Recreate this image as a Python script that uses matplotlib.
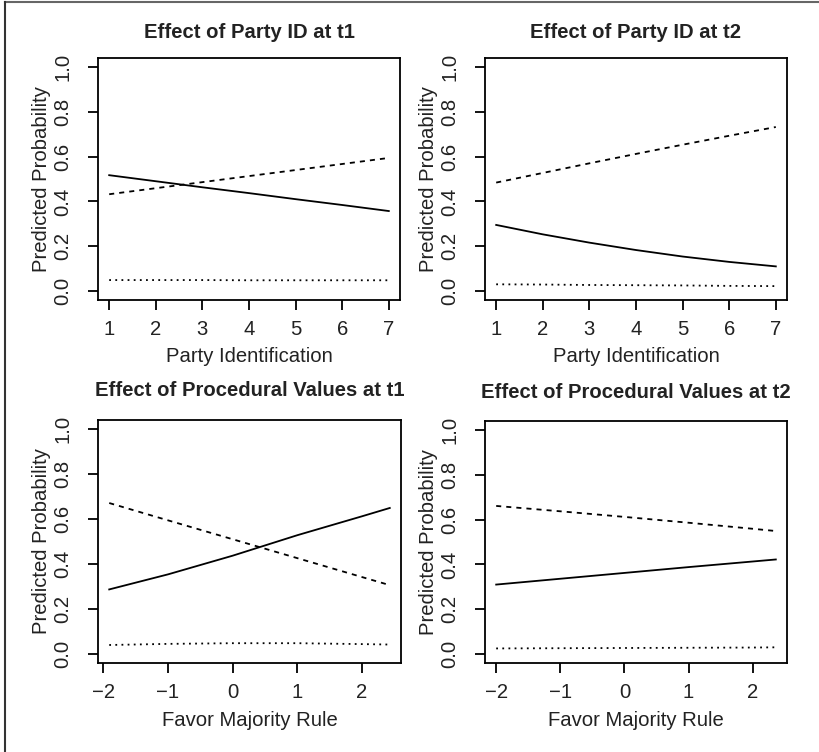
import matplotlib
matplotlib.use("Agg")
import matplotlib.pyplot as plt
from matplotlib.lines import Line2D

plt.rcParams['font.family'] = ['Liberation Sans', 'DejaVu Sans']

# ---- data ----
party_x = [1, 2, 3, 4, 5, 6, 7]
p1_solid = [0.517, 0.490, 0.463, 0.437, 0.410, 0.384, 0.357]
p1_dashed = [0.432, 0.459, 0.486, 0.513, 0.540, 0.567, 0.594]
p1_dotted = [0.049, 0.049, 0.049, 0.048, 0.048, 0.048, 0.048]

p2_solid = [0.295, 0.253, 0.216, 0.183, 0.154, 0.130, 0.110]
p2_dashed = [0.484, 0.527, 0.570, 0.612, 0.653, 0.693, 0.732]
p2_dotted = [0.030, 0.029, 0.027, 0.026, 0.025, 0.023, 0.022]

proc3_x = [-1.91, -1, 0, 1, 2, 2.43]
p3_solid = [0.287, 0.354, 0.437, 0.528, 0.612, 0.649]
p3_dashed = [0.671, 0.594, 0.510, 0.426, 0.342, 0.306]
p3_dotted = [0.040, 0.045, 0.048, 0.048, 0.044, 0.042]

proc4_x = [-2.0, -1, 0, 1, 2, 2.36]
p4_solid = [0.310, 0.336, 0.362, 0.388, 0.413, 0.422]
p4_dashed = [0.661, 0.637, 0.612, 0.586, 0.559, 0.549]
p4_dotted = [0.025, 0.026, 0.027, 0.028, 0.029, 0.030]

titles = ["Effect of Party ID at t1", "Effect of Party ID at t2",
          "Effect of Procedural Values at t1", "Effect of Procedural Values at t2"]
xlabels = ["Party Identification", "Party Identification",
           "Favor Majority Rule", "Favor Majority Rule"]
ylabel = "Predicted Probability"
yticks = [0.0, 0.2, 0.4, 0.6, 0.8, 1.0]
party_ticks = [1, 2, 3, 4, 5, 6, 7]
proc_ticks = [-2, -1, 0, 1, 2]

W, H = 819, 752
fig = plt.figure(figsize=(W / 100, H / 100), dpi=100)
fig.patch.set_facecolor('white')

# axes boxes in pixels: (left, top, right, bottom)
boxes = [(98, 58, 400, 300), (485, 58, 787, 300),
         (98, 420, 401, 663), (485, 421, 787, 663)]
xs = [party_x, party_x, proc3_x, proc4_x]
solids = [p1_solid, p2_solid, p3_solid, p4_solid]
dashes = [p1_dashed, p2_dashed, p3_dashed, p4_dashed]
dots = [p1_dotted, p2_dotted, p3_dotted, p4_dotted]
xticks_list = [party_ticks, party_ticks, proc_ticks, proc_ticks]

FS = 14.6
TXT = '#222222'
LW = 1.3

for i, (l, t, r, b) in enumerate(boxes):
    ax = fig.add_axes([l / W, (H - b) / H, (r - l) / W, (b - t) / H])
    x = xs[i]
    ax.plot(x, solids[i], color='black', lw=LW, linestyle='-')
    ax.plot(x, dashes[i], color='black', lw=LW, linestyle=(0, (2.8, 2.8)))
    ax.plot(x, dots[i], color='black', lw=LW, linestyle=(0, (1.0, 2.4)))
    xmin, xmax = min(x), max(x)
    ext = 0.04 * (xmax - xmin)
    ax.set_xlim(xmin - ext, xmax + ext)
    ax.set_ylim(-0.04, 1.04)
    ax.set_xticks(xticks_list[i])
    ax.set_xticklabels([("\u2212%d" % -v) if v < 0 else str(v) for v in xticks_list[i]])
    ax.set_yticks(yticks)
    ax.set_yticklabels(["%.1f" % v for v in yticks])
    ax.tick_params(axis='both', direction='out', length=7.2, width=LW,
                   labelsize=FS, labelcolor=TXT, color='black')
    ax.tick_params(axis='x', pad=7)
    ax.tick_params(axis='y', pad=11, labelrotation=90)
    for lab in ax.get_yticklabels():
        lab.set_verticalalignment('center')
    for s in ax.spines.values():
        s.set_linewidth(LW)
        s.set_color('black')
    hpx = b - t
    wpx = r - l
    ax.text(0.5, 1 + (25 if i < 2 else 29) / hpx, titles[i], transform=ax.transAxes,
            ha='center', va='center', fontsize=FS, fontweight='bold', color=TXT)
    ax.text(0.5, -57 / hpx, xlabels[i], transform=ax.transAxes,
            ha='center', va='center', fontsize=FS, color=TXT)
    ax.text((42 - 98) / wpx, 0.5, ylabel, transform=ax.transAxes,
            ha='center', va='center', rotation=90, fontsize=FS, color=TXT)

# outer frame lines (top and left)
fig.add_artist(Line2D([5 / W, 1], [1 - 2 / H, 1 - 2 / H], transform=fig.transFigure,
                      color='#666666', lw=1.5))
fig.add_artist(Line2D([5 / W, 5 / W], [0, 1 - 2 / H], transform=fig.transFigure,
                      color='#333333', lw=1.5))

fig.savefig("out.png", dpi=100, facecolor='white')
